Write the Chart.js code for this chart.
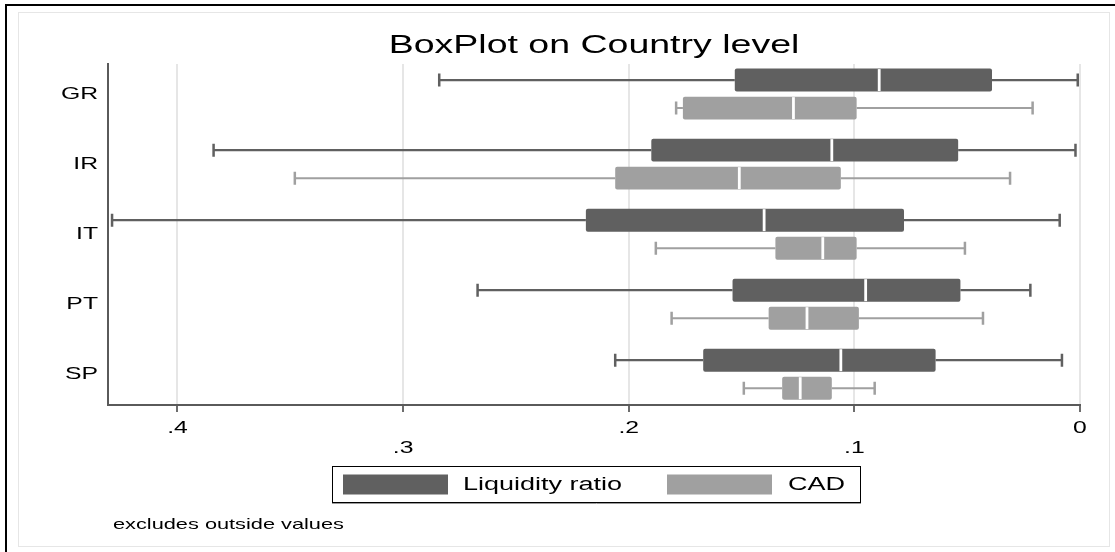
<!DOCTYPE html>
<html>
<head>
<meta charset="utf-8">
<title>BoxPlot on Country level</title>
<script src="https://cdn.jsdelivr.net/npm/chart.js@4.4.1/dist/chart.umd.min.js"></script>
<style>
  html, body { margin: 0; padding: 0; background: #ffffff; }
  canvas { display: block; }
</style>
</head>
<body>
<canvas id="chart" width="1115" height="552"></canvas>
<script>
// Countries, top to bottom
const COUNTRIES = ['GR', 'IR', 'IT', 'PT', 'SP'];

// Liquidity ratio: adjacent values, quartiles and median per country
const LIQ_MIN = [0.001, 0.002, 0.009, 0.022, 0.008];
const LIQ_Q1  = [0.039, 0.054, 0.078, 0.053, 0.064];
const LIQ_MED = [0.089, 0.110, 0.140, 0.095, 0.106];
const LIQ_Q3  = [0.153, 0.190, 0.219, 0.154, 0.167];
const LIQ_MAX = [0.284, 0.384, 0.429, 0.267, 0.206];

// CAD: adjacent values, quartiles and median per country
const CAD_MIN = [0.021, 0.031, 0.051, 0.043, 0.091];
const CAD_Q1  = [0.099, 0.106, 0.099, 0.098, 0.110];
const CAD_MED = [0.127, 0.151, 0.114, 0.121, 0.124];
const CAD_Q3  = [0.176, 0.206, 0.135, 0.138, 0.132];
const CAD_MAX = [0.179, 0.348, 0.188, 0.181, 0.149];

// Value axis (drawn reversed: largest value on the left)
const X_TICKS = [0, 0.1, 0.2, 0.3, 0.4];
const X_MAX = 0.4308;

const SERIES_NAMES = ['Liquidity ratio', 'CAD'];
const DARK = '#606060';
const LIGHT = '#a0a0a0';
const TEXT_STRETCH = 1.5;
const FONT = '"Liberation Sans", Arial, Helvetica, sans-serif';

const canvas = document.getElementById('chart');
const ctx = canvas.getContext('2d');

// Wide lettering: every text run is drawn horizontally expanded around its anchor
const nativeFillText = ctx.fillText.bind(ctx);
ctx.fillText = function (text, x, y) {
  this.save();
  this.translate(x, y);
  this.scale(TEXT_STRETCH, 1);
  nativeFillText(text, 0, 0);
  this.restore();
};

function boxData(q1, q3) {
  return COUNTRIES.map((c, i) => ({ y: i, x: [q1[i], q3[i]] }));
}

// Page background and the two frames around the figure
const framePlugin = {
  id: 'frame',
  beforeDraw(chart) {
    const c = chart.ctx;
    c.save();
    c.fillStyle = '#ffffff';
    c.fillRect(0, 0, chart.width, chart.height);
    c.strokeStyle = '#e6e6e6';
    c.lineWidth = 1;
    c.strokeRect(18.5, 12.5, 1091, 534);
    c.fillStyle = '#000000';
    c.fillRect(5, 4, chart.width - 5, 2);
    c.fillRect(5, 4, 2, chart.height - 4);
    c.restore();
  }
};

// Whiskers, end caps and median markers on top of the quartile boxes
const whiskerPlugin = {
  id: 'whiskers',
  afterDatasetsDraw(chart) {
    const c = chart.ctx;
    const xs = chart.scales.x;
    chart.data.datasets.forEach((ds, di) => {
      const meta = chart.getDatasetMeta(di);
      meta.data.forEach((bar, i) => {
        const { y, height } = bar.getProps(['y', 'height'], true);
        const pMin = xs.getPixelForValue(ds.stats.min[i]);
        const pQ1 = xs.getPixelForValue(ds.stats.q1[i]);
        const pMed = xs.getPixelForValue(ds.stats.med[i]);
        const pQ3 = xs.getPixelForValue(ds.stats.q3[i]);
        const pMax = xs.getPixelForValue(ds.stats.max[i]);
        c.save();
        c.strokeStyle = ds.whiskerColor;
        c.lineWidth = ds.whiskerWidth;
        c.beginPath();
        c.moveTo(pQ1, y); c.lineTo(pMin, y);
        c.moveTo(pQ3, y); c.lineTo(pMax, y);
        c.stroke();
        c.lineWidth = 2.5;
        const capHalf = 6.5;
        c.beginPath();
        c.moveTo(pMin, y - capHalf); c.lineTo(pMin, y + capHalf);
        c.moveTo(pMax, y - capHalf); c.lineTo(pMax, y + capHalf);
        c.stroke();
        c.strokeStyle = '#ffffff';
        c.lineWidth = 2.8;
        c.beginPath();
        c.moveTo(pMed, y - height / 2 + 0.5);
        c.lineTo(pMed, y + height / 2 - 0.5);
        c.stroke();
        c.restore();
      });
    });
  }
};

// Framed legend below the axis, plus the note under it
const legendPlugin = {
  id: 'boxedLegend',
  afterDraw(chart) {
    const c = chart.ctx;
    const left = 332, top = 466, right = 860, bottom = 502;
    c.save();
    c.fillStyle = '#ffffff';
    c.fillRect(left, top, right - left, bottom - top);
    c.strokeStyle = '#9a9a9a';
    c.lineWidth = 1;
    c.beginPath();
    c.moveTo(left, bottom + 1.5); c.lineTo(right + 1, bottom + 1.5);
    c.stroke();
    c.strokeStyle = '#000000';
    c.strokeRect(left + 0.5, top + 0.5, right - left, bottom - top);
    const items = [
      { swatch: 343, text: 463 },
      { swatch: 667, text: 788 }
    ];
    const midY = (top + bottom) / 2 + 0.5;
    chart.data.datasets.forEach((ds, i) => {
      const it = items[i];
      c.fillStyle = ds.backgroundColor;
      c.fillRect(it.swatch, midY - 10, 105, 20);
      c.fillStyle = '#000000';
      c.font = '18px ' + FONT;
      c.textAlign = 'left';
      c.textBaseline = 'middle';
      c.fillText(ds.label, it.text, midY + 1);
    });
    c.font = '14.5px ' + FONT;
    c.textAlign = 'left';
    c.textBaseline = 'middle';
    c.fillStyle = '#000000';
    c.fillText('excludes outside values', 113, 525);
    c.restore();
  }
};

function fmtTick(v) {
  const r = Math.round(v * 10) / 10;
  if (r === 0) return '0';
  return r.toFixed(1).replace(/^0/, '');
}

new Chart(ctx, {
  type: 'bar',
  data: {
    datasets: [
      {
        label: SERIES_NAMES[0],
        data: boxData(LIQ_Q1, LIQ_Q3),
        backgroundColor: DARK,
        borderWidth: 0,
        borderRadius: 2,
        borderSkipped: false,
        whiskerColor: DARK,
        whiskerWidth: 2.2,
        stats: { min: LIQ_MIN, q1: LIQ_Q1, med: LIQ_MED, q3: LIQ_Q3, max: LIQ_MAX }
      },
      {
        label: SERIES_NAMES[1],
        data: boxData(CAD_Q1, CAD_Q3),
        backgroundColor: LIGHT,
        borderWidth: 0,
        borderRadius: 2,
        borderSkipped: false,
        whiskerColor: LIGHT,
        whiskerWidth: 2,
        stats: { min: CAD_MIN, q1: CAD_Q1, med: CAD_MED, q3: CAD_Q3, max: CAD_MAX }
      }
    ]
  },
  options: {
    indexAxis: 'y',
    responsive: false,
    devicePixelRatio: 1,
    animation: false,
    categoryPercentage: 0.8,
    barPercentage: 0.82,
    layout: { padding: { left: 0, right: 35, top: 0, bottom: 0 } },
    plugins: {
      legend: { display: false },
      tooltip: { enabled: false },
      title: {
        display: true,
        text: 'BoxPlot on Country level',
        fullSize: false,
        color: '#000000',
        font: { family: FONT, size: 25, weight: 'normal', lineHeight: 1.2 },
        padding: { top: 31, bottom: 3 }
      }
    },
    scales: {
      x: {
        type: 'linear',
        position: 'bottom',
        reverse: true,
        min: 0,
        max: X_MAX,
        afterFit(scale) { scale.height = 147; },
        afterBuildTicks(scale) { scale.ticks = X_TICKS.map(v => ({ value: v })); },
        grid: {
          display: true,
          color: '#e6e6e6',
          lineWidth: 2,
          drawTicks: true,
          tickLength: 7,
          tickColor: '#3c3c3c',
          tickWidth: 1.5
        },
        border: { display: true, color: '#5a5a5a', width: 2 },
        ticks: {
          color: '#000000',
          font: { family: FONT, size: 16.5, lineHeight: 1.18 },
          padding: 7,
          maxRotation: 0,
          autoSkip: false,
          includeBounds: false,
          callback(v, i) {
            const label = fmtTick(v);
            return Math.round(v * 10) % 2 === 1 ? ['', label] : label;
          }
        }
      },
      y: {
        type: 'linear',
        reverse: true,
        offset: false,
        min: -0.43,
        max: 4.44,
        afterFit(scale) { scale.width = 108; },
        grid: { display: false, drawTicks: false, offset: false },
        border: { display: true, color: '#5a5a5a', width: 2 },
        ticks: {
          stepSize: 1,
          includeBounds: false,
          autoSkip: false,
          padding: 10,
          color: '#000000',
          font: { family: FONT, size: 16.5 },
          callback(v) {
            return Number.isInteger(v) && COUNTRIES[v] !== undefined ? COUNTRIES[v] : '';
          }
        }
      }
    }
  },
  plugins: [framePlugin, whiskerPlugin, legendPlugin]
});
</script>
</body>
</html>
